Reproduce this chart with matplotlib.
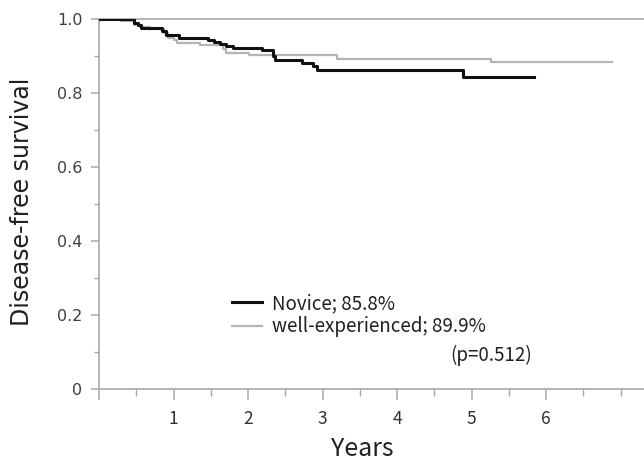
import matplotlib
matplotlib.use("Agg")
import matplotlib.pyplot as plt
from matplotlib.ticker import MultipleLocator, FixedLocator

# Kaplan-Meier step data
novice_t = [0, 0.47, 0.52, 0.57, 0.85, 0.90, 1.07, 1.46, 1.55, 1.62, 1.70, 1.80,
            2.19, 2.33, 2.36, 2.73, 2.87, 2.92, 4.88, 5.84]
novice_s = [1.0, 0.990, 0.985, 0.977, 0.967, 0.956, 0.949, 0.943, 0.937, 0.932, 0.927, 0.921,
            0.915, 0.900, 0.890, 0.881, 0.872, 0.861, 0.844, 0.844]

well_t = [0, 0.29, 0.47, 0.55, 0.69, 0.87, 0.93, 1.00, 1.05, 1.36, 1.66, 1.70,
          2.02, 3.20, 5.26, 6.89]
well_s = [1.0, 0.994, 0.985, 0.978, 0.972, 0.962, 0.950, 0.942, 0.936, 0.929, 0.920, 0.909,
          0.902, 0.892, 0.883, 0.883]

labels = ["Novice; 85.8%", "well-experienced; 89.9%"]
p_text = "(p=0.512)"
yticks = [0, 0.2, 0.4, 0.6, 0.8, 1.0]
yticklabels = ["0", "0.2", "0.4", "0.6", "0.8", "1.0"]
xticks = [0, 1, 2, 3, 4, 5, 6]
xticklabels = ["", "1", "2", "3", "4", "5", "6"]

jp = ["Noto Sans CJK JP", "DejaVu Sans"]
axcol = "#a8a8a8"

fig = plt.figure(figsize=(6.44, 4.62), dpi=100)
ax = fig.add_axes([99/644, 1 - 389/462, 1 - 99/644, (389 - 19)/462])

ax.plot(novice_t, novice_s, drawstyle="steps-post", color="#111111", lw=2.2,
        label=labels[0], zorder=3)
ax.plot(well_t, well_s, drawstyle="steps-post", color="#b4b4b4", lw=1.6,
        label=labels[1], zorder=2)

ax.set_xlim(0, (644 - 98.3) / 74.6)
ax.set_ylim(0, 1.0)

for s in ["left", "bottom", "top"]:
    ax.spines[s].set_color(axcol)
    ax.spines[s].set_linewidth(1.2)
ax.spines["right"].set_visible(False)

ax.yaxis.set_major_locator(FixedLocator(yticks))
ax.set_yticklabels(yticklabels, fontfamily="DejaVu Sans", fontsize=11.5, color="#404040")
ax.yaxis.set_minor_locator(MultipleLocator(0.1))
ax.xaxis.set_major_locator(FixedLocator(xticks))
ax.set_xticklabels(xticklabels, fontfamily=jp, fontsize=12.5, color="#303030")
ax.xaxis.set_minor_locator(MultipleLocator(0.5))

ax.tick_params(axis="y", which="major", length=6, color=axcol, width=1.1, pad=6)
ax.tick_params(axis="y", which="minor", length=3.5, color=axcol, width=1.0)
ax.tick_params(axis="x", which="major", length=8, color=axcol, width=1.1, pad=7)
ax.tick_params(axis="x", which="minor", length=5, color=axcol, width=1.0)

ax.set_ylabel("Disease-free survival", fontsize=17, color="#202020",
              fontfamily="DejaVu Sans")
ax.yaxis.set_label_coords(-(99 - 22) / 545, (389 - 202) / 370)
ax.set_xlabel("Years", fontsize=18, color="#202020", fontfamily=jp)
ax.xaxis.set_label_coords((362 - 99) / 545, -(449 - 389) / 370)
ax.xaxis.label.set_va("center")
ax.yaxis.label.set_va("center")

leg = ax.legend(loc="upper left", bbox_to_anchor=((232 - 99) / 545, 1 - (293 - 19) / 370),
                frameon=False, handlelength=1.6, handletextpad=0.55, labelspacing=0.12,
                prop={"family": jp, "size": 13.5}, borderaxespad=0, borderpad=0)
for t in leg.get_texts():
    t.set_color("#202020")

ax.text((450 - 98.3) / 74.6, (389.5 - 356) / 370, p_text, fontsize=13.5, fontfamily=jp,
        color="#202020", va="center", ha="left")

fig.savefig("out.png", dpi=100)
